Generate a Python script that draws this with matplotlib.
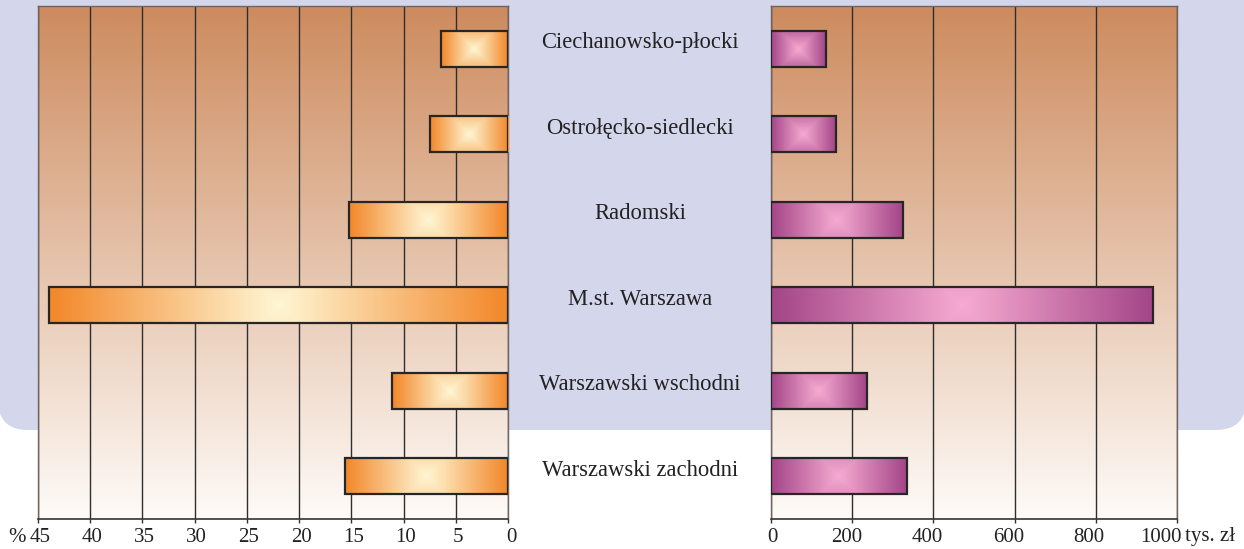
import numpy as np
import matplotlib
matplotlib.use("Agg")
import matplotlib.pyplot as plt
from matplotlib.patches import FancyBboxPatch
from matplotlib.transforms import blended_transform_factory, offset_copy

# ---- data ----
regions = ["Ciechanowsko-płocki", "Ostrołęcko-siedlecki", "Radomski",
           "M.st. Warszawa", "Warszawski wschodni", "Warszawski zachodni"]
share_pct = [6.4, 7.5, 15.2, 43.9, 11.1, 15.6]
value_tys = [135, 159, 324, 941, 236, 334]
left_ticks = [45, 40, 35, 30, 25, 20, 15, 10, 5, 0]
right_ticks = [0, 200, 400, 600, 800, 1000]

W, H, DPI = 1244, 549, 100
plt.rcParams['font.family'] = ['Liberation Serif', 'DejaVu Serif']
fig = plt.figure(figsize=(W / DPI, H / DPI), dpi=DPI)
fig.patch.set_facecolor('white')
TXT = '#222222'

# background rounded lavender panel
bg = fig.add_axes([0, 0, 1, 1], zorder=-10)
bg.set_xlim(0, W); bg.set_ylim(H, 0); bg.axis('off')
bg.add_patch(FancyBboxPatch((-2, -60), W + 4, 60 + 430,
                            boxstyle="round,pad=0,rounding_size=30",
                            fc='#d4d6ec', ec='none'))

ax_top, ax_bot = 6, 519
def axrect(x0, x1):
    return [x0 / W, (H - ax_bot) / H, (x1 - x0) / W, (ax_bot - ax_top) / H]

axL = fig.add_axes(axrect(38, 508))
axR = fig.add_axes(axrect(771, 1177))

top_c = np.array([205, 139, 94]) / 255
bot_c = np.array([254, 251, 248]) / 255
grad = np.linspace(0, 1, 256)[:, None]
panel_img = top_c[None, None, :] * (1 - grad[..., None]) + bot_c[None, None, :] * grad[..., None]

def bar_gradient(ax, patch, c_center, c_edge):
    x0, y0 = patch.get_x(), patch.get_y()
    w, h = patch.get_width(), patch.get_height()
    p0 = ax.transData.transform((x0, y0))
    p1 = ax.transData.transform((x0 + w, y0 + h))
    wpx, hpx = abs(p1[0] - p0[0]), abs(p1[1] - p0[1])
    nx, ny = 400, 60
    u = np.linspace(-1, 1, nx)[None, :]
    v = np.linspace(-1, 1, ny)[:, None]
    t = np.maximum(np.abs(u), np.abs(v) * hpx / wpx)
    t = np.clip(t, 0, 1)[..., None]
    img = np.array(c_center)[None, None, :] * (1 - t) + np.array(c_edge)[None, None, :] * t
    im = ax.imshow(img, extent=(x0, x0 + w, y0, y0 + h), aspect='auto',
                   zorder=3, interpolation='bilinear')
    im.set_clip_path(patch)

y = np.arange(len(regions))

def setup(ax, xlim, ticks, vals, c_center, c_edge, label_dx):
    ax.set_xlim(*xlim)
    ax.set_ylim(len(regions) - 0.5, -0.5)
    ax.imshow(panel_img, extent=(xlim[0], xlim[1], len(regions) - 0.5, -0.5),
              aspect='auto', zorder=0)
    for t in ticks:
        ax.axvline(t, color='#2e2e2e', lw=1.0, zorder=1)
    bars = ax.barh(y, vals, height=0.42, color='none', edgecolor='#262626',
                   lw=1.6, zorder=4)
    for p in bars.patches:
        bar_gradient(ax, p, c_center, c_edge)
    ax.set_xticks(ticks)
    ax.set_xticklabels([])
    ax.set_yticks([])
    ax.tick_params(axis='x', direction='out', length=3, width=1.0, color='#333333')
    base = blended_transform_factory(ax.transData, ax.transAxes)
    for t, dx in zip(ticks, label_dx):
        tr = offset_copy(base, fig=fig, x=dx, y=-18, units='dots')
        ax.text(t, 0, str(t), transform=tr, fontsize=15, ha='center', va='center',
                color=TXT, clip_on=False)
    for s in ['left', 'right', 'top']:
        ax.spines[s].set_color('#6f6560')
        ax.spines[s].set_linewidth(1.0)
    ax.spines['bottom'].set_color('#333333')
    ax.spines['bottom'].set_linewidth(1.2)

orange_c = (1.0, 0.965, 0.83)
orange_e = (0.95, 0.53, 0.16)
purple_c = (0.965, 0.67, 0.82)
purple_e = (0.64, 0.27, 0.53)

setup(axL, (45, 0), left_ticks, share_pct, orange_c, orange_e,
      [2, 2, 2, 2, 2, 2, 2, 2, 2, 3])
setup(axR, (0, 1000), right_ticks, value_tys, purple_c, purple_e,
      [1, -6, -6, -6, -7, -16])

# "%" and "tys. zł" unit labels
fig.text(17 / W, (H - 537) / H, '%', fontsize=15, ha='center', va='center', color=TXT)
fig.text(1185 / W, (H - 537) / H, 'tys. zł', fontsize=15, ha='left', va='center', color=TXT)

# category labels between the panels
tr = blended_transform_factory(fig.transFigure, axL.transData)
tr = offset_copy(tr, fig=fig, x=0, y=6, units='dots')
for yi, name in zip(y, regions):
    fig.text(640 / W, yi, name, transform=tr, fontsize=16.3, ha='center', va='center',
             color=TXT)

fig.savefig('out.png', dpi=DPI)
